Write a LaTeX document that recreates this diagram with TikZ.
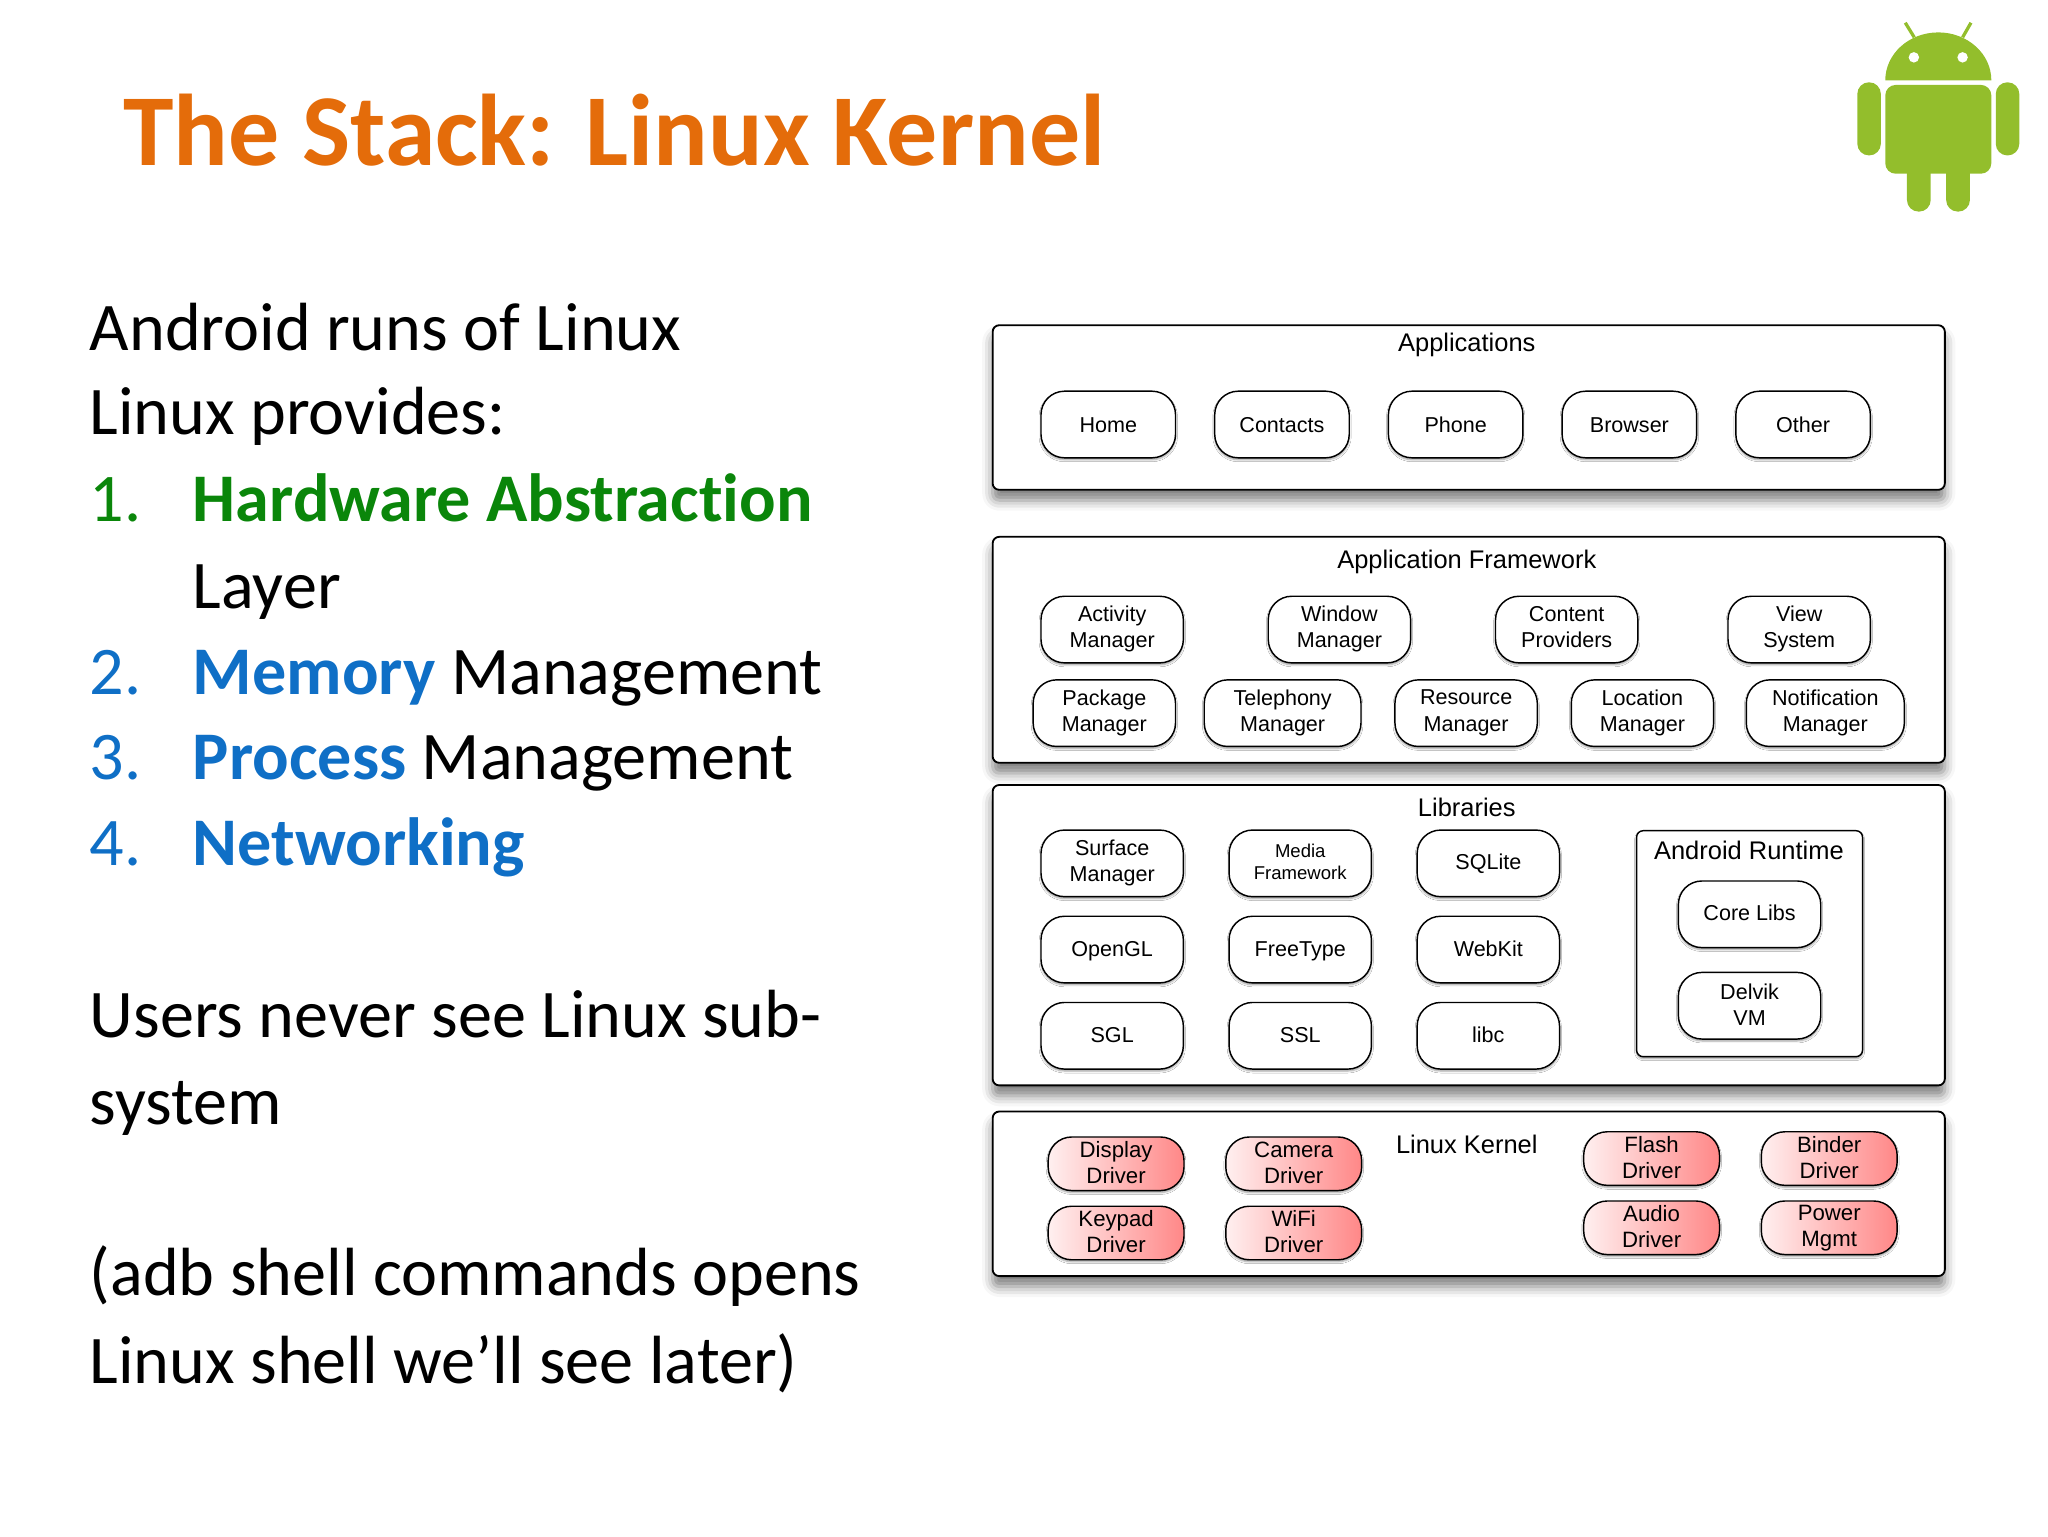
\documentclass[tikz,border=0pt]{standalone}
\usepackage{fontspec}
\setmainfont{Carlito}[Ligatures=NoCommon]
\newfontfamily\stackfont{Liberation Sans}
\usetikzlibrary{shadows.blur}
\definecolor{titleorange}{HTML}{E46C0A}
\definecolor{hwgreen}{HTML}{0A860A}
\definecolor{itemblue}{HTML}{0F6FC6}
\definecolor{robotgreen}{HTML}{93BE2C}
\tikzset{
  textdrop/.initial=4pt,
  line/.style={anchor=base west,inner sep=0pt,font=\fontsize{52.2}{60}\selectfont},
  layer/.style={draw,rounded corners=5pt,line width=1.4pt,fill=white,
    blur shadow={shadow xshift=0pt,shadow yshift=-8pt,shadow blur radius=8pt,shadow opacity=50}},
  head/.style={inner sep=0pt,font=\stackfont\fontsize{19.5}{23}\selectfont},
  box/.style={draw,rounded corners=18pt,line width=1.1pt,fill=white,align=center,inner sep=0pt,
    minimum width=109pt,minimum height=51pt,font=\stackfont\fontsize{16.5}{20}\selectfont,
    execute at begin node={\rule[-\pgfkeysvalueof{/tikz/textdrop}]{0pt}{20pt}},
    execute at end node={\rule[-\pgfkeysvalueof{/tikz/textdrop}]{0pt}{20pt}},
    blur shadow={shadow xshift=0pt,shadow yshift=-1.5pt,shadow blur radius=1.5pt,shadow opacity=40}},
  lowtext/.style={textdrop=2pt},
  hightext/.style={textdrop=5pt},
  driver/.style={box,lowtext,minimum width=104pt,minimum height=41pt,left color=red!6,right color=red!47!white,
    font=\stackfont\fontsize{17}{20}\selectfont},
}
\begin{document}
\begin{tikzpicture}[x=1pt,y=-1pt]
\useasboundingbox (0,0) rectangle (1568,1176);

\node[anchor=base west,inner sep=0pt,text=titleorange,font=\fontsize{78}{90}\selectfont\bfseries](title) at (94,127) {The Stack: Linux Kernel};

\node[line](l1) at (68.5,268) {Android runs of Linux};
\node[line](l2) at (68.5,333) {Linux provides:};
\node[line,text=hwgreen](n1) at (68.5,399) {1.};
\node[line,text=hwgreen](t1) at (147.5,399) {\bfseries Hardware Abstraction};
\node[line](t1b) at (147.5,466) {Layer};
\node[line,text=itemblue](n2) at (68.5,532) {2.};
\node[line](t2) at (147.5,532) {\textcolor{itemblue}{\bfseries Memory} Management};
\node[line,text=itemblue](n3) at (68.5,597) {3.};
\node[line](t3) at (147.5,597) {\textcolor{itemblue}{\bfseries Process} Management};
\node[line,text=itemblue](n4) at (68.5,663) {4.};
\node[line,text=itemblue](t4) at (147.5,663) {\bfseries Networking};
\node[line](l3) at (68.5,794) {Users never see Linux sub-};
\node[line](l4) at (68.5,861) {system};
\node[line](l5) at (68.5,992) {(adb shell commands opens};
\node[line](l6) at (68.5,1059) {Linux shell we’ll see later)};

% robot
\fill[robotgreen] (1443.4,61.5) arc[start angle=180,end angle=360,x radius=40.6,y radius=36.7] -- cycle;
\fill[robotgreen,rounded corners=8pt] (1443.4,65) -- (1524.6,65) -- (1524.6,133) -- (1443.4,133) -- cycle;
\fill[robotgreen,rounded corners=8.9pt] (1422,63) rectangle (1440,119);
\fill[robotgreen,rounded corners=8.9pt] (1528,63) rectangle (1546,119);
\fill[robotgreen,rounded corners=8.9pt] (1460,120) rectangle (1478.2,162);
\fill[robotgreen,rounded corners=8.9pt] (1490,120) rectangle (1508.2,162);
\fill[white] (1465.3,43.9) circle (4);
\fill[white] (1502.6,43.9) circle (4);
\draw[robotgreen,line width=2.5pt] (1458.7,17.4) -- (1465.6,28.6);
\draw[robotgreen,line width=2.5pt] (1509,17.4) -- (1502.6,28.6);

\node[layer,minimum width=729pt,minimum height=126pt](apps) at (1124.5,312) {};
\node[layer,minimum width=729pt,minimum height=173pt](fw) at (1124.5,497.5) {};
\node[layer,minimum width=729pt,minimum height=230pt](libs) at (1124.5,716) {};
\node[layer,minimum width=729pt,minimum height=126pt](kernel) at (1124.5,914) {};

\node[head](appshead) at (1123,264) {Applications};
\node[head](fwhead) at (1123,430) {Application Framework};
\node[head](libshead) at (1123,618) {Libraries};
\node[head](kernelhead) at (1123,876) {Linux Kernel};

\node[box,minimum width=103pt](home) at (848.5,325) {Home};
\node[box,minimum width=103pt](contacts) at (981.5,325) {Contacts};
\node[box,minimum width=103pt](phone) at (1114.5,325) {Phone};
\node[box,minimum width=103pt](browser) at (1247.5,325) {Browser};
\node[box,minimum width=103pt](other) at (1380.5,325) {Other};

\node[box](activity) at (851.5,482) {Activity\\Manager};
\node[box](window) at (1025.5,482) {Window\\Manager};
\node[box](content) at (1199.5,482) {Content\\Providers};
\node[box](view) at (1377.5,482) {View\\System};
\node[box](package) at (845.5,546) {Package\\Manager};
\node[box,minimum width=120pt](telephony) at (982,546) {Telephony\\Manager};
\node[box](resource) at (1122.5,546) {Resource\\Manager};
\node[box](location) at (1257.5,546) {Location\\Manager};
\node[box,minimum width=121pt](notification) at (1397.5,546) {Notification\\Manager};

\node[box,lowtext](surface) at (851.5,661) {Surface\\Manager};
\node[box,lowtext,font=\stackfont\fontsize{14.2}{17}\selectfont](media) at (995.5,661) {Media\\Framework};
\node[box,hightext](sqlite) at (1139.5,661) {SQLite};
\node[box,hightext](opengl) at (851.5,727) {OpenGL};
\node[box,hightext](freetype) at (995.5,727) {FreeType};
\node[box,hightext](webkit) at (1139.5,727) {WebKit};
\node[box,hightext](sgl) at (851.5,793) {SGL};
\node[box,hightext](ssl) at (995.5,793) {SSL};
\node[box,hightext](libc) at (1139.5,793) {libc};

\node[box,rounded corners=5pt,minimum width=173pt,minimum height=173pt](runtime) at (1339.5,722.5) {};
\node[head](runtimehead) at (1339,651) {Android Runtime};
\node[box,hightext](corelibs) at (1339.5,700) {Core Libs};
\node[box,lowtext](delvik) at (1339.5,770) {Delvik\\VM};

\node[driver](display) at (854.5,891) {Display\\Driver};
\node[driver](camera) at (990.5,891) {Camera\\Driver};
\node[driver](keypad) at (854.5,944) {Keypad\\Driver};
\node[driver](wifi) at (990.5,944) {WiFi\\Driver};
\node[driver](flash) at (1264.5,887) {Flash\\Driver};
\node[driver](binder) at (1400.5,887) {Binder\\Driver};
\node[driver](audio) at (1264.5,940) {Audio\\Driver};
\node[driver](power) at (1400.5,940) {Power\\Mgmt};
\end{tikzpicture}
\end{document}
